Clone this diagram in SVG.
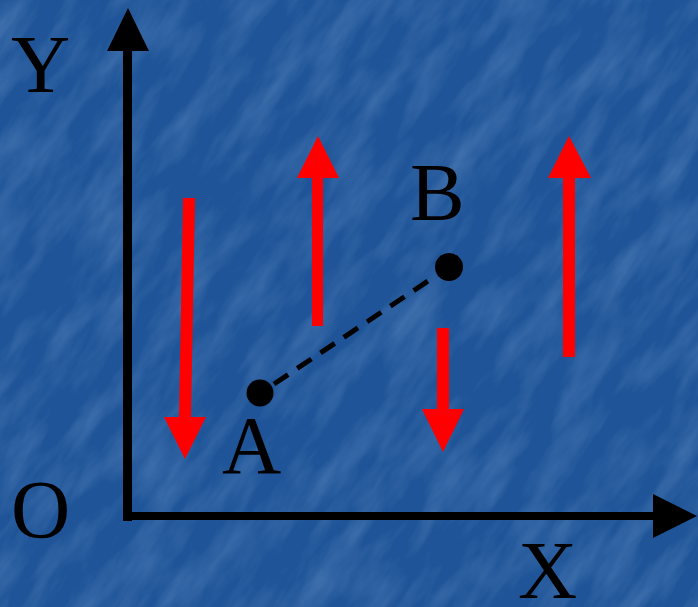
<svg xmlns="http://www.w3.org/2000/svg" width="698" height="607" viewBox="0 0 698 607">
<defs>
<filter id="tex" x="0" y="0" width="100%" height="100%">
<feTurbulence type="fractalNoise" baseFrequency="0.04 0.012" numOctaves="4" seed="3" result="n"/>
<feColorMatrix in="n" type="matrix" values="0 0 0 0 0.55  0 0 0 0 0.7  0 0 0 0 1  0 0 0 1.4 -0.55"/>
</filter>
<style>
.ax{fill:#000}
.red{fill:#ff0000}
.lbl{font-family:"Liberation Serif","Times New Roman",serif;font-size:82px;fill:#000}
.dash{stroke:#000;stroke-width:5;stroke-dasharray:17 11;fill:none}
</style>
</defs>
<rect width="698" height="607" fill="#1f5598"/>
<g transform="rotate(35 349 303)">
<rect x="-300" y="-300" width="1300" height="1200" filter="url(#tex)" opacity="0.28"/>
</g>
<g id="axes">
<rect class="ax" x="123" y="48" width="9" height="473"/>
<polygon class="ax" points="128,8 107,51 149,51"/>
<rect class="ax" x="123" y="512" width="533" height="8"/>
<polygon class="ax" points="697,516 653,494 653,538"/>
</g>
<g id="labels">
<text class="lbl" x="11" y="92">Y</text>
<text class="lbl" x="11" y="537">O</text>
<text class="lbl" x="518" y="598">X</text>
</g>
<g id="connectors">
<line class="dash" x1="274" y1="384" x2="437" y2="275"/>
</g>
<g id="pointA">
<circle cx="260" cy="393" r="13.5" fill="#000"/>
<text class="lbl" x="222" y="473">A</text>
</g>
<g id="pointB">
<circle cx="449" cy="267" r="14" fill="#000"/>
<text class="lbl" x="410" y="220">B</text>
</g>
<g id="arrow1">
<polygon class="red" points="183,198 195,198 191,417 206,417 185,459 164,417 179,417"/>
</g>
<g id="arrow2">
<polygon class="red" points="318,136 339,178 323,178 323,326 312,326 312,178 297,178"/>
</g>
<g id="arrow3">
<polygon class="red" points="437,328 449,328 449,409 464,409 443,452 422,409 437,409"/>
</g>
<g id="arrow4">
<polygon class="red" points="569,136 591,178 575,178 575,357 563,357 563,178 548,178"/>
</g>
</svg>
